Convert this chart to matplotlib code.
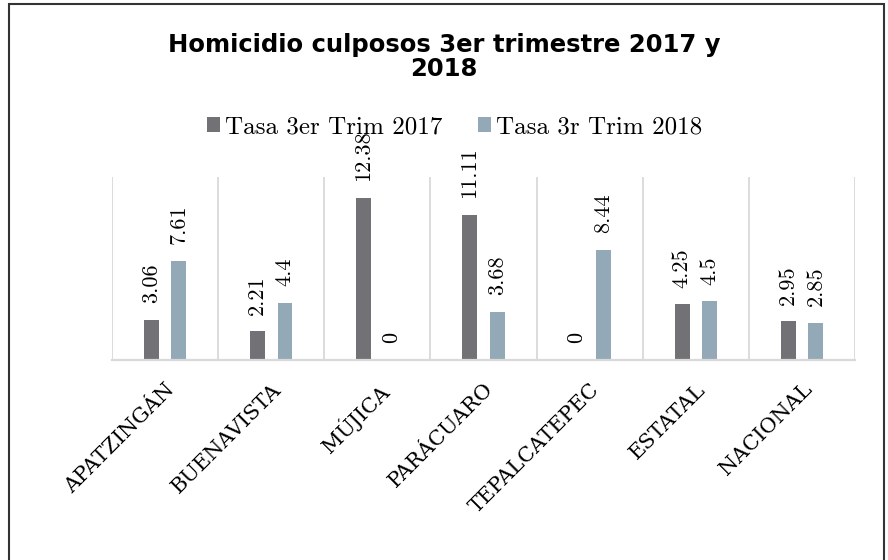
import matplotlib
matplotlib.use("Agg")
from matplotlib import pyplot as plt
from matplotlib.patches import Rectangle
import numpy as np

# data
categories = ['APATZINGÁN', 'BUENAVISTA', 'MÚJICA', 'PARÁCUARO',
              'TEPALCATEPEC', 'ESTATAL', 'NACIONAL']
tasa_2017 = [3.06, 2.21, 12.38, 11.11, 0, 4.25, 2.95]
tasa_2018 = [7.61, 4.4, 0, 3.68, 8.44, 4.5, 2.85]
series_names = ['Tasa 3er Trim 2017', 'Tasa 3r Trim 2018']

dark = '#717176'
light = '#93a9b8'
grid_col = '#d9d9d9'
cm_font = ['cmr10', 'DejaVu Serif']

fig = plt.figure(figsize=(8.88, 5.6), dpi=100)
ax = fig.add_axes([0.126, 0.357, 0.837, 0.327])

x = np.arange(len(categories))
off, w = 0.13, 0.14
b1 = ax.bar(x - off, tasa_2017, w, color=dark, label=series_names[0])
b2 = ax.bar(x + off, tasa_2018, w, color=light, label=series_names[1])

for bars, vals in ((b1, tasa_2017), (b2, tasa_2018)):
    for rect, v in zip(bars, vals):
        ax.annotate(f'{v:g}', (rect.get_x() + rect.get_width() / 2, v),
                    xytext=(0, 12), textcoords='offset points',
                    rotation=90, ha='center', va='bottom',
                    fontsize=16, family=cm_font, color='black',
                    annotation_clip=False)

ax.set_xlim(-0.5, len(categories) - 0.5)
ax.set_ylim(0, 14)
for xv in np.arange(-0.5, len(categories), 1.0):
    ax.axvline(xv, color=grid_col, lw=1.3, zorder=0)

for s in ('top', 'right', 'left'):
    ax.spines[s].set_visible(False)
ax.spines['bottom'].set_color(grid_col)
ax.spines['bottom'].set_linewidth(1.6)
ax.set_yticks([])
ax.set_xticks(x)
ax.set_xticklabels(categories, rotation=45, ha='right',
                   rotation_mode='anchor', family='DejaVu Serif',
                   fontsize=15)
ax.tick_params(axis='x', length=0, pad=14)

fig.text(0.5, 0.899, 'Homicidio culposos 3er trimestre 2017 y\n2018',
         ha='center', va='center', fontsize=17.5, fontweight='bold',
         family='DejaVu Sans', linespacing=1.0)

fig.legend(handles=[b1, b2], loc='center', bbox_to_anchor=(0.512, 0.773),
           ncol=2, frameon=False, prop={'family': cm_font, 'size': 18},
           handlelength=0.55, handleheight=0.55, handletextpad=0.2,
           columnspacing=1.4)

# outer chart border
fig.patches.append(Rectangle((9 / 888, -0.01), 875 / 888, 1 - 4 / 560 + 0.01,
                             transform=fig.transFigure, fill=False,
                             edgecolor='#333333', lw=1.5))

fig.savefig('out.png', dpi=100)
